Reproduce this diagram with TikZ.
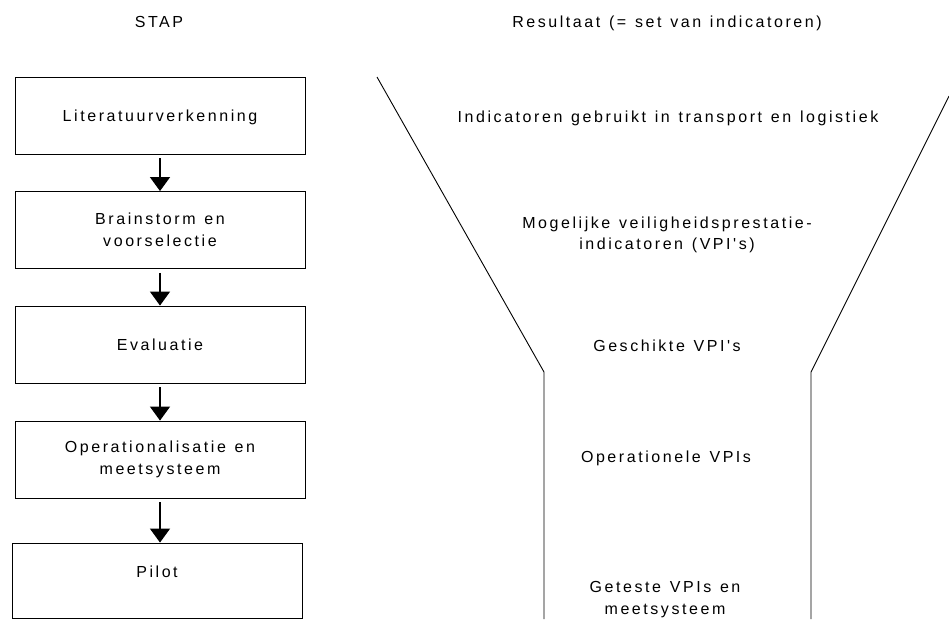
\documentclass[tikz,border=0pt]{standalone}
\usepackage{fontspec}
\setmainfont{Liberation Sans}[LetterSpace=16,WordSpace=1.25,Ligatures=TeXOff]
\usetikzlibrary{arrows.meta}
\begin{document}
\begin{tikzpicture}[x=1pt,y=1pt,
  every node/.style={font=\fontsize{16}{21.5}\selectfont, align=center, inner sep=0pt},
  stepbox/.style={draw, line width=0.9pt, minimum width=290pt, minimum height=77pt},
  oneline/.style={text height=11.5pt, text depth=0pt},
  flow/.style={-{Triangle[width=20pt,length=14pt]}, line width=1.5pt, shorten <=4pt},
  funnel/.style={line width=0.9pt},
  result/.style={}]
\useasboundingbox (0,0) rectangle (949,-619);
% headings
\node[anchor=base] (hstap) at (159,-27) {STAP};
\node[anchor=base] (hres) at (667,-27) {Resultaat (= set van indicatoren)};
% steps
\node[stepbox, oneline] (b1) at (160,-115.5) {Literatuurverkenning};
\node[stepbox] (b2) at (160,-230) {Brainstorm en\\voorselectie};
\node[stepbox, oneline] (b3) at (160,-344.5) {Evaluatie};
\node[stepbox] (b4) at (160,-459.5) {Operationalisatie en\\meetsysteem};
\node[stepbox, minimum height=75pt, text height=11.5pt, text depth=18.5pt] (b5) at (157,-580.5) {Pilot};
\draw[flow] (b1.south) -- (b2.north);
\draw[flow] (b2.south) -- (b3.north);
\draw[flow] (b3.south) -- (b4.north);
\draw[flow] (b4.south) -- (b4.south |- b5.north);
% funnel
\coordinate (lt) at (377,-77);
\coordinate (lb) at (544,-372);
\coordinate (lbb) at (544,-619);
\coordinate (rt) at (949,-96);
\coordinate (rb) at (811,-372);
\coordinate (rbb) at (811,-619);
\draw[funnel] (lt) -- (lb) -- (lbb);
\draw[funnel] (rt) -- (rb) -- (rbb);
% results
\node[result, anchor=base] (r1) at (668,-122.5) {Indicatoren gebruikt in transport en logistiek};
\node[result, anchor=north] (r2) at (667,-216.5) {Mogelijke veiligheidsprestatie-\\indicatoren (VPI's)};
\node[result, anchor=base] (r3) at (667,-351) {Geschikte VPI's};
\node[result, anchor=base] (r4) at (666,-462) {Operationele VPIs};
\node[result, anchor=north] (r5) at (665,-581.5) {Geteste VPIs en\\meetsysteem};
\end{tikzpicture}
\end{document}
